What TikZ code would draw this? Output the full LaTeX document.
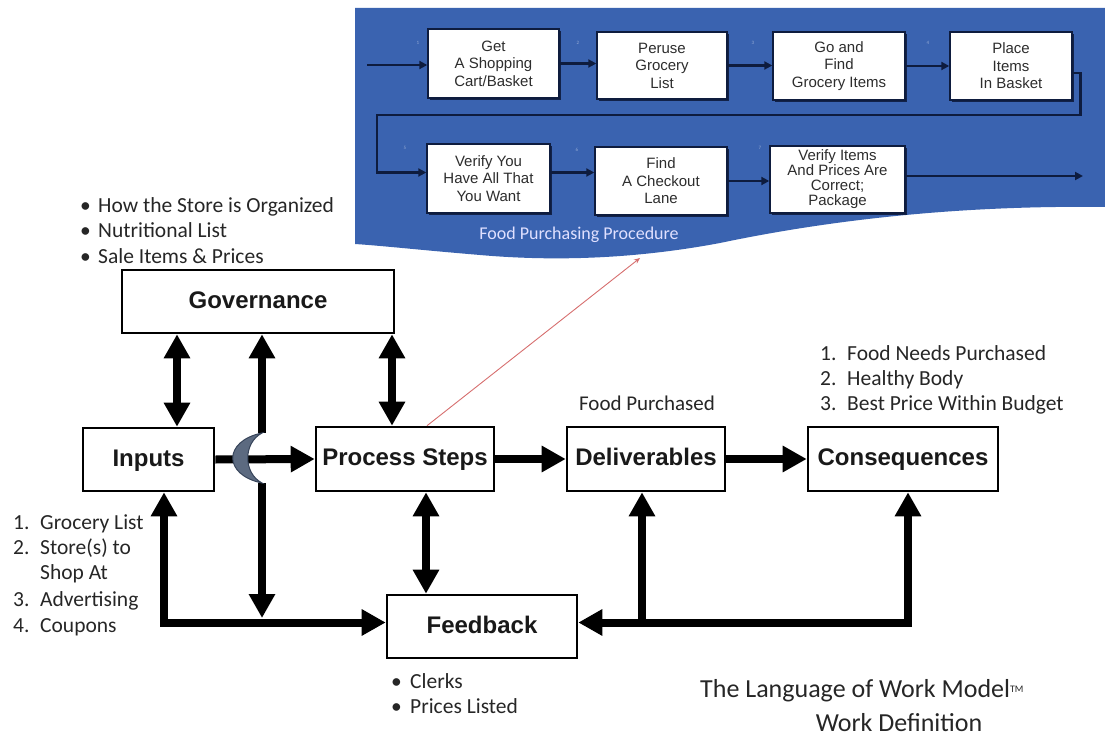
\documentclass[tikz,border=0pt]{standalone}
\usepackage{fontspec}
\setmainfont{Carlito}
\newfontfamily\arialfont{Liberation Sans}
\usetikzlibrary{arrows.meta,shadows,calc}

\definecolor{banner}{RGB}{58,99,176}
\definecolor{navy}{RGB}{14,28,62}
\definecolor{moonfill}{RGB}{92,106,128}
\definecolor{moonedge}{RGB}{55,68,90}
\definecolor{linkred}{RGB}{214,110,110}
\definecolor{steptext}{RGB}{45,45,45}

\tikzset{
  bigtip/.tip={Triangle[length=24pt,width=25pt]},
  smalltip/.tip={Triangle[length=8pt,width=8pt]},
}

\begin{document}
\begin{tikzpicture}[x=1pt,y=-1pt,
  mainbox/.style={draw=black, line width=2.6pt, fill=white, inner sep=0pt,
    text height=17.5pt, text depth=4.5pt,
    font=\arialfont\bfseries\fontsize{24}{28}\selectfont, text=black!90},
  stepbox/.style={draw=navy, line width=1.4pt, fill=white, inner sep=0pt, align=center,
    text=steptext, font=\arialfont\fontsize{15}{17.5}\selectfont,
    drop shadow={shadow xshift=2pt, shadow yshift=-2pt, fill=navy, opacity=0.9}},
  flow/.style={line width=8pt},
  stepflow/.style={draw=navy, line width=2.6pt, -smalltip},
  listtext/.style={anchor=base west, inner sep=0pt, font=\fontsize{21.5}{24}\selectfont, text=black!85},
  stepno/.style={font=\fontsize{5}{5}\selectfont, text=banner!55!white, inner sep=0pt},
]
\useasboundingbox (0,0) rectangle (1105,738);

% procedure banner
\fill[banner] (355,8) -- (1105,8) -- (1105,207)
  .. controls (950,205) and (820,222) .. (720,243)
  .. controls (640,258) and (560,262) .. (480,255)
  .. controls (420,250) and (385,246) .. (355,244) -- cycle;

% procedure steps
\node[stepbox, minimum width=131pt, minimum height=69pt] (p1) at (493.5,63.5) {Get\\A Shopping\\Cart/Basket};
\node[stepbox, minimum width=130pt, minimum height=67pt] (p2) at (662,65.5) {Peruse\\Grocery\\List};
\node[stepbox, minimum width=132pt, minimum height=68pt] (p3) at (839,66) {Go and\\Find\\Grocery Items};
\node[stepbox, minimum width=122pt, minimum height=68pt] (p4) at (1011,66) {Place\\Items\\In Basket};
\node[stepbox, minimum width=123pt, minimum height=69pt] (p5) at (488.5,178.5) {Verify You\\Have All That\\You Want};
\node[stepbox, minimum width=132pt, minimum height=68pt] (p6) at (661,181) {Find\\A Checkout\\Lane};
\node[stepbox, minimum width=135pt, minimum height=67pt,
  font=\arialfont\fontsize{15}{15}\selectfont] (p7) at (837.5,179.5) {Verify Items\\And Prices Are\\Correct;\\Package};

% procedure connectors
\coordinate (pin) at (367,65);
\coordinate (pout) at (1083,176);
\draw[stepflow] (pin) -- (pin -| p1.west);
\draw[stepflow] (p1.east) -- (p1.east -| p2.west);
\draw[stepflow] (p2.east) -- (p2.east -| p3.west);
\draw[stepflow] (p3.east) -- (p3.east -| p4.west);
\draw[stepflow] ($(p4.east)+(0,7)$) -- ++(8,0) |- (377,115) |- ($(p5.west)+(0,-6)$);
\draw[stepflow] ($(p5.east)+(0,-6)$) -- ($(p6.west)+(0,-8.5)$);
\draw[stepflow] (p6.east) -- (p6.east -| p7.west);
\draw[stepflow] (p7.east |- pout) -- (pout);

% step numbers
\node[stepno] (n1) at (418,43) {1};
\node[stepno] (n2) at (578,43) {2};
\node[stepno] (n3) at (753,43) {3};
\node[stepno] (n4) at (928,43) {4};
\node[stepno] (n5) at (405,148) {5};
\node[stepno] (n6) at (577,150) {6};
\node[stepno] (n7) at (760,148) {7};

\node[anchor=center, inner sep=0pt, text=white!88!blue, font=\fontsize{18}{20}\selectfont] (proclabel) at (579,235) {Food Purchasing Procedure};

% work model boxes
\node[mainbox, minimum width=272pt, minimum height=63pt] (gov) at (258,301.5) {Governance};
\node[mainbox, minimum width=131pt, minimum height=63pt] (inputs) at (148.5,459.5) {Inputs};
\node[mainbox, minimum width=178pt, minimum height=64pt] (proc) at (405,459) {Process Steps};
\node[mainbox, minimum width=158pt, minimum height=64pt] (deliv) at (646,459) {Deliverables};
\node[mainbox, minimum width=190pt, minimum height=64pt] (conseq) at (903,459) {Consequences};
\node[mainbox, minimum width=190pt, minimum height=63pt] (feedback) at (482,626.5) {Feedback};

% link to the procedure
\coordinate (link) at (640,258);
\draw[linkred, line width=0.9pt, -{Stealth[length=6pt,width=5pt]}] ($(proc.north)+(22,0)$) -- (link);

% connectors
\coordinate (moontop) at (262,433);
\coordinate (moonbot) at (262,483);
\coordinate (fbjoin) at (262,618);
\coordinate (fbL) at ($(feedback.west)+(0,-4)$);
\coordinate (fbR) at ($(feedback.east)+(0,-4)$);
\coordinate (deljoin) at (642,622);

\draw[flow, bigtip-bigtip] (177,0 |- gov.south) -- (177,0 |- inputs.north);
\draw[flow, bigtip-bigtip] (392,0 |- gov.south) -- (392,0 |- proc.north);
\draw[flow, bigtip-] (262,0 |- gov.south) -- (moontop);
\draw[flow, -bigtip] (moonbot) -- (fbjoin);
\draw[flow, -bigtip] (inputs.east) -- (proc.west);
\draw[flow, -bigtip] (proc.east) -- (deliv.west);
\draw[flow, -bigtip] (deliv.east) -- (conseq.west);
\draw[flow, bigtip-bigtip] (426,0 |- proc.south) -- (426,0 |- feedback.north);
\draw[flow, bigtip-bigtip] (164,0 |- inputs.south) |- (fbL);
\draw[flow, bigtip-bigtip] (908,0 |- conseq.south) |- (fbR);
\draw[flow, bigtip-] (642,0 |- deliv.south) -- (deljoin);

% crossing crescent
\filldraw[fill=moonfill, draw=moonedge, line width=1pt]
  (moontop) .. controls (223,441) and (223,475) .. (moonbot)
  .. controls (243,473) and (243,443) .. (moontop) -- cycle;

% governance notes
\node[listtext] (g1b) at (80,212) {•};
\node[listtext] (g1) at (98,212) {How the Store is Organized};
\node[listtext] (g2b) at (80,237.5) {•};
\node[listtext] (g2) at (98,237.5) {Nutritional List};
\node[listtext] (g3b) at (80,263) {•};
\node[listtext] (g3) at (98,263) {Sale Items \& Prices};

% input notes
\node[listtext] (i1n) at (13,529) {1.};
\node[listtext] (i1) at (40,529) {Grocery List};
\node[listtext] (i2n) at (13,554) {2.};
\node[listtext] (i2) at (40,554) {Store(s) to};
\node[listtext] (i2b) at (40,579) {Shop At};
\node[listtext] (i3n) at (13,606) {3.};
\node[listtext] (i3) at (40,606) {Advertising};
\node[listtext] (i4n) at (13,632) {4.};
\node[listtext] (i4) at (40,632) {Coupons};

% deliverable and consequence notes
\node[anchor=base, inner sep=0pt, font=\fontsize{21}{24}\selectfont, text=black!85] (delnote) at (647,410) {Food Purchased};
\node[listtext] (c1n) at (820,360) {1.};
\node[listtext] (c1) at (847,360) {Food Needs Purchased};
\node[listtext] (c2n) at (820,385) {2.};
\node[listtext] (c2) at (847,385) {Healthy Body};
\node[listtext] (c3n) at (820,410) {3.};
\node[listtext] (c3) at (847,410) {Best Price Within Budget};

% feedback notes
\node[listtext] (f1b) at (391,688) {•};
\node[listtext] (f1) at (410,688) {Clerks};
\node[listtext] (f2b) at (391,713) {•};
\node[listtext] (f2) at (410,713) {Prices Listed};

% title
\node[anchor=base west, inner sep=0pt, font=\fontsize{26}{30}\selectfont, text=black!85] (title1) at (700,697)
  {The Language of Work Model\raisebox{5pt}{\fontsize{10}{10}\selectfont TM}};
\node[anchor=base, inner sep=0pt, font=\fontsize{26}{30}\selectfont, text=black!85] (title2) at (899,731) {Work Definition};

\end{tikzpicture}
\end{document}
